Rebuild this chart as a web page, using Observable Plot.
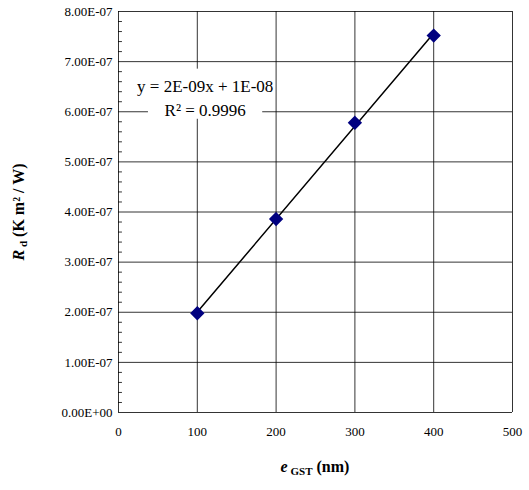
<!DOCTYPE html>
<html><head><meta charset="utf-8">
<script src="https://cdn.jsdelivr.net/npm/d3@7"></script>
<script src="https://cdn.jsdelivr.net/npm/@observablehq/plot@0.6"></script>
<style>body{margin:0;background:#fff} svg, svg text{font-family:'Liberation Serif',serif !important}</style>
</head><body><div id="chart"></div>
<script>
const thickness = [100, 200, 300, 400];
const resistance = [1.98e-7, 3.86e-7, 5.78e-7, 7.52e-7];
const xTicks = [0, 100, 200, 300, 400, 500];
const yTicks = d3.range(0, 9).map(i => i * 1e-7);
const yMinor = d3.range(0, 41).map(i => i * 2e-8).filter((d, i) => i % 5);

const data = thickness.map((x, i) => ({x, y: resistance[i]}));
const fmt = d => d.toExponential(2).toUpperCase().replace(/E([+-])(\d)$/, "E$10$2");

const chart = Plot.plot({
  width: 529, height: 490,
  marginLeft: 118, marginTop: 11, marginRight: 17, marginBottom: 78,
  style: {fontFamily: "'Liberation Serif', serif", fontSize: "13px", color: "#000"},
  x: {domain: [0, 500], ticks: xTicks, tickSize: 0, tickPadding: 14, label: null},
  y: {domain: [0, 8e-7], ticks: yTicks, tickFormat: fmt, tickSize: 0, tickPadding: 6, label: null},
  marks: [
    Plot.ruleX(xTicks, {stroke: "#000", strokeWidth: 0.8}),
    Plot.ruleY(yTicks, {stroke: "#000", strokeWidth: 0.8}),
    Plot.ruleY(yMinor, {x1: 0, x2: 5, stroke: "#000", strokeWidth: 0.8}),
    Plot.rect([{}], {x1: 38, x2: 183, y1: 5.85e-7, y2: 6.85e-7, fill: "white"}),
    Plot.text(["y = 2E-09x + 1E-08"], {x: 110, y: 6.5e-7, fontSize: 17}),
    Plot.text(["R² = 0.9996"], {x: 110, y: 6.02e-7, fontSize: 17}),
    Plot.linearRegressionY(data, {x: "x", y: "y", stroke: "#000", strokeWidth: 1.5, ci: 0}),
    Plot.dot(data, {x: "x", y: "y", symbol: "diamond2", r: 5.5, fill: "#000080", stroke: "#000080"})
  ]
});
document.getElementById("chart").append(chart);
const svg = d3.select(chart);
const xl = svg.append("text").attr("x", 315).attr("y", 472).attr("text-anchor", "middle")
  .attr("font-weight", "bold").attr("font-size", 16);
xl.append("tspan").attr("font-style", "italic").text("e");
xl.append("tspan").attr("font-size", 11).attr("dy", 3).text(" GST");
xl.append("tspan").attr("dy", -3).text(" (nm)");
const yl = svg.append("text").attr("transform", "translate(24,212) rotate(-90)").attr("text-anchor", "middle")
  .attr("font-weight", "bold").attr("font-size", 16);
yl.append("tspan").attr("font-style", "italic").text("R");
yl.append("tspan").attr("font-size", 11).attr("dy", 3).text(" d");
yl.append("tspan").attr("dy", -3).text(" (K m² / W)");
</script></body></html>
